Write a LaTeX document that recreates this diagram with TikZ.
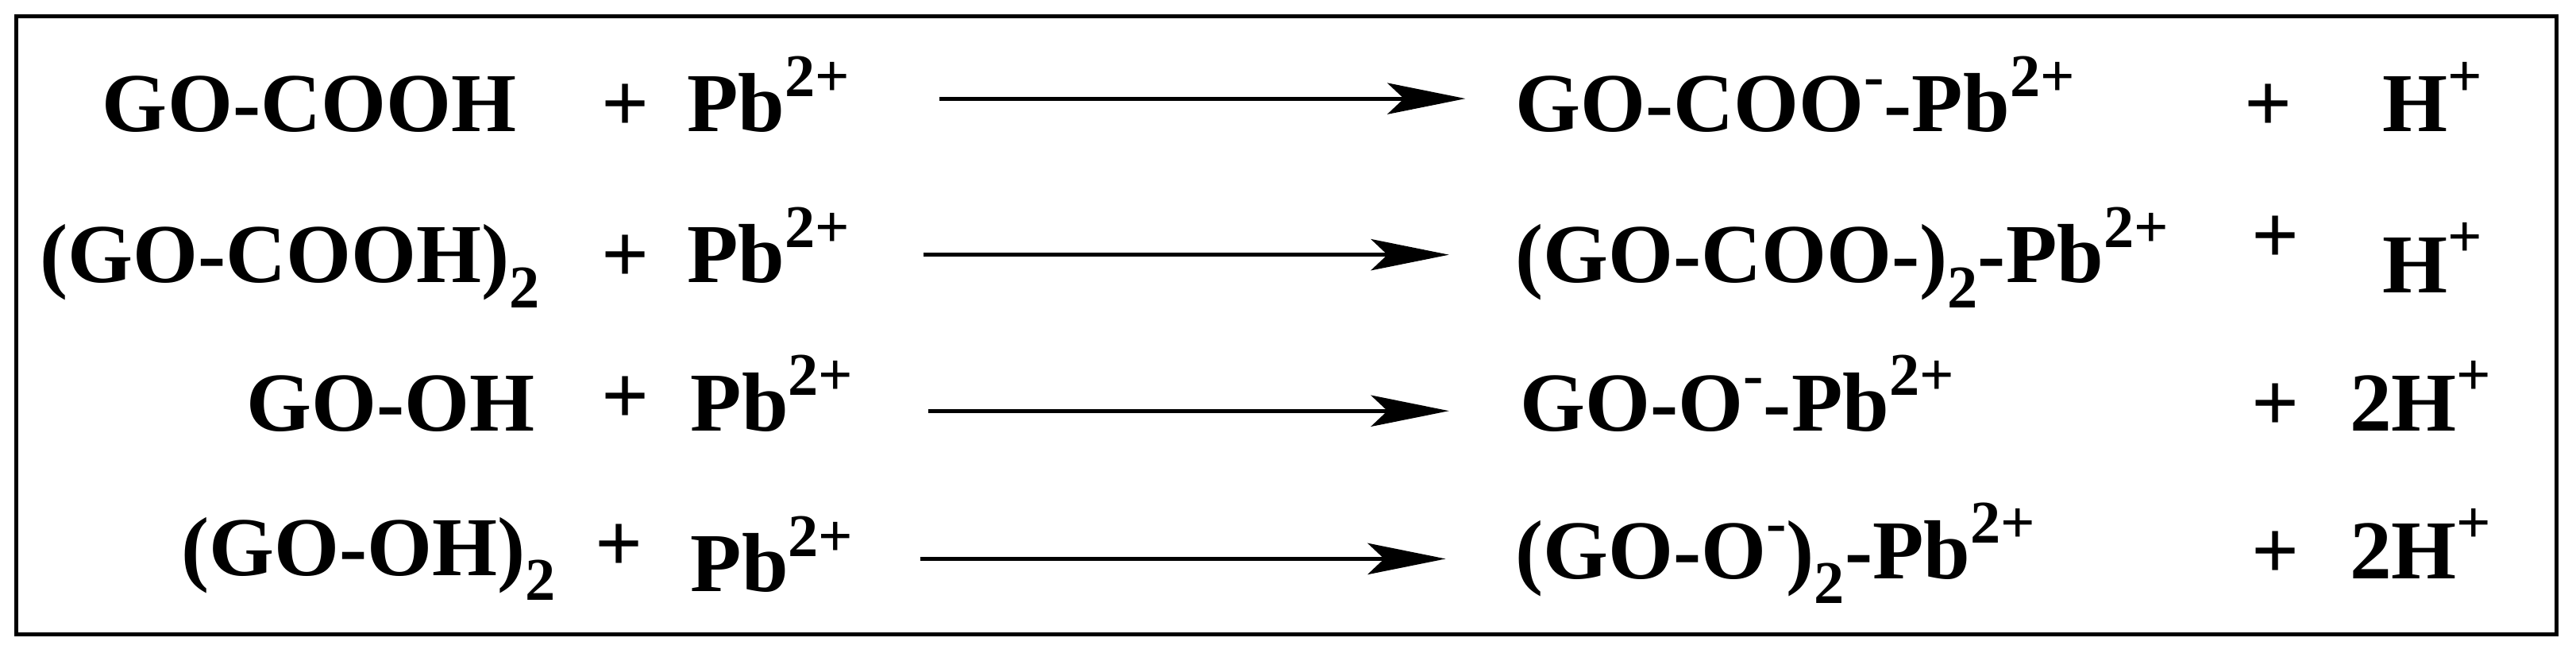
\documentclass[tikz,border=0pt]{standalone}
\usepackage{fontspec}
\setmainfont{Liberation Serif}
\usetikzlibrary{arrows.meta}
\newcommand{\myup}[1]{\raisebox{0.42em}{\fontsize{21}{22}\selectfont #1}}
\newcommand{\mydn}[1]{\raisebox{-0.3em}{\fontsize{21}{22}\selectfont #1}}
\begin{document}
\begin{tikzpicture}[x=0.02cm,y=-0.02cm,
  t/.style={anchor=base west,inner sep=0pt,font=\fontsize{29}{32}\selectfont\bfseries},
  rx/.style={-{Stealth[length=0.95cm,width=0.38cm,inset=0.2cm]},line width=1.4pt}]
\useasboundingbox (0,0) rectangle (1568,399.3);
\draw[line width=1.4pt] (10,10) rectangle (1556,386);
% row 1
\node[t] (a1) at (62,80) {GO-COOH};
\node[t] (p1) at (366,80) {+};
\node[t] (b1) at (418,80) {Pb\myup{2+}};
\coordinate (s1) at (572,60); \coordinate (e1) at (892,60);
\draw[rx] (s1) -- (e1);
\node[t] (c1) at (922,80) {GO-COO\myup{-}-Pb\myup{2+}};
\node[t] (q1) at (1366,80) {+};
\node[t] (d1) at (1450,80) {H\myup{+}};
% row 2
\node[t] (a2) at (24,172) {(GO-COOH)\mydn{2}};
\node[t] (p2) at (366,172) {+};
\node[t] (b2) at (418,172) {Pb\myup{2+}};
\coordinate (s2) at (562,155); \coordinate (e2) at (882,155);
\draw[rx] (s2) -- (e2);
\node[t] (c2) at (922,172) {(GO-COO-)\mydn{2}-Pb\myup{2+}};
\node[t] (q2) at (1370,160) {+};
\node[t] (d2) at (1450,178) {H\myup{+}};
% row 3
\node[t,anchor=base east] (a3) at (326,262) {GO-OH};
\node[t] (p3) at (366,258) {+};
\node[t] (b3) at (420,262) {Pb\myup{2+}};
\coordinate (s3) at (565,250); \coordinate (e3) at (882,250);
\draw[rx] (s3) -- (e3);
\node[t] (c3) at (925,262) {GO-O\myup{-}-Pb\myup{2+}};
\node[t] (q3) at (1370,262) {+};
\node[t] (d3) at (1430,262) {2H\myup{+}};
% row 4
\node[t] (a4) at (110,350) {(GO-OH)\mydn{2}};
\node[t] (p4) at (362,348) {+};
\node[t] (b4) at (420,360) {Pb\myup{2+}};
\coordinate (s4) at (560,340); \coordinate (e4) at (880,340);
\draw[rx] (s4) -- (e4);
\node[t] (c4) at (922,352) {(GO-O\myup{-})\mydn{2}-Pb\myup{2+}};
\node[t] (q4) at (1370,352) {+};
\node[t] (d4) at (1430,352) {2H\myup{+}};
\end{tikzpicture}
\end{document}
